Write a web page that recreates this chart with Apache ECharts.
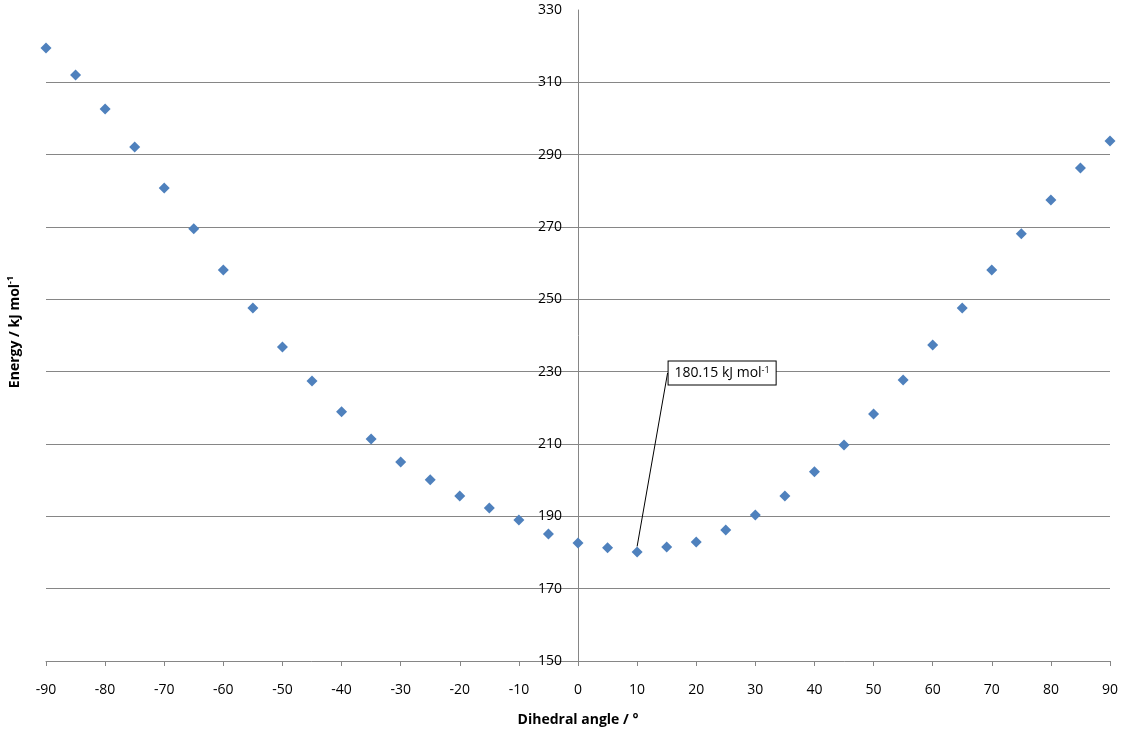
<!DOCTYPE html>
<html>
<head>
<meta charset="utf-8">
<script src="https://cdn.jsdelivr.net/npm/echarts@6/dist/echarts.min.js"></script>
<style>html,body{margin:0;padding:0;background:#fff}#c{width:1123px;height:737px}</style>
</head>
<body>
<div id="c"></div>
<script>
const angles = [-90,-85,-80,-75,-70,-65,-60,-55,-50,-45,-40,-35,-30,-25,-20,-15,-10,-5,0,5,10,15,20,25,30,35,40,45,50,55,60,65,70,75,80,85,90];
const energies = [319.5,312.0,302.6,292.1,280.8,269.5,258.1,247.6,236.8,227.4,218.9,211.4,205.0,200.1,195.6,192.3,189.0,185.1,182.6,181.3,180.15,181.5,182.9,186.2,190.4,195.6,202.3,209.7,218.3,227.7,237.4,247.6,258.1,268.1,277.5,286.3,293.8];
const annotatedIndex = 20;
const annotationText = '180.15 kJ mol';
const xTitle = 'Dihedral angle / °';
const yTitle = 'Energy / kJ mol';

const chart = echarts.init(document.getElementById('c'), null, {renderer: 'canvas'});
const font = 'Open Sans, Noto Sans, sans-serif';
const gridLeft = 46;
const data = angles.map((a, i) => {
  const item = {value: [a, energies[i]]};
  if (i === annotatedIndex) {
    item.label = {
      show: true,
      position: 'inside',
      formatter: '{a|' + annotationText + '}{s|-1}',
      backgroundColor: '#fff',
      borderColor: '#000',
      borderWidth: 1,
      padding: [4, 6, 3, 6],
      rich: {
        a: {fontSize: 14, fontFamily: font, color: '#000', lineHeight: 16},
        s: {fontSize: 9, fontFamily: font, color: '#000', lineHeight: 9, verticalAlign: 'top'}
      }
    };
    item.labelLine = {show: true, lineStyle: {color: '#000', width: 1, opacity: 1}};
  }
  return item;
});

const option = {
  animation: false,
  grid: {left: gridLeft, right: 13, top: 10, bottom: 76},
  xAxis: {
    type: 'value', min: -90, max: 90, interval: 10,
    name: xTitle, nameLocation: 'middle', nameGap: 52,
    nameTextStyle: {fontSize: 14, fontWeight: 'bold', fontFamily: font, color: '#000'},
    axisLine: {show: true, onZero: false, lineStyle: {color: '#868686', width: 1}},
    axisTick: {show: true, inside: false, length: 5, lineStyle: {color: '#868686'}},
    axisLabel: {margin: 22, fontSize: 14, fontFamily: font, color: '#000'},
    splitLine: {show: false}
  },
  yAxis: {
    type: 'value', min: 150, max: 330, interval: 20,
    position: 'left', offset: 0,
    axisLine: {show: true, onZero: false, lineStyle: {color: '#868686', width: 1}},
    axisTick: {show: false},
    axisLabel: {margin: 16, fontSize: 14, fontFamily: font, color: '#000'},
    splitLine: {show: true, showMinLine: false, showMaxLine: false, lineStyle: {color: '#868686', width: 1}}
  },
  graphic: [{
    type: 'text', x: 15, y: 332, rotation: Math.PI / 2,
    style: {
      text: '{a|' + yTitle + '}{s|-1}',
      align: 'center', verticalAlign: 'middle',
      rich: {
        a: {fontSize: 14, fontWeight: 'bold', fontFamily: font, color: '#000', lineHeight: 18},
        s: {fontSize: 9, fontWeight: 'bold', fontFamily: font, color: '#000', lineHeight: 9, verticalAlign: 'top'}
      }
    }
  }],
  series: [{
    type: 'scatter',
    symbol: 'diamond',
    symbolSize: 11,
    itemStyle: {color: '#4F81BD', opacity: 1},
    data: data,
    labelLayout: function (p) {
      if (p.dataIndex === annotatedIndex) return {dx: 85, dy: -179};
      return {};
    }
  }]
};
chart.setOption(option);
// move the y axis (line + labels) to x = 0, as in the reference
const zeroPx = chart.convertToPixel({xAxisIndex: 0}, 0);
chart.setOption({yAxis: {offset: -(zeroPx - gridLeft)}});
</script>
</body>
</html>
